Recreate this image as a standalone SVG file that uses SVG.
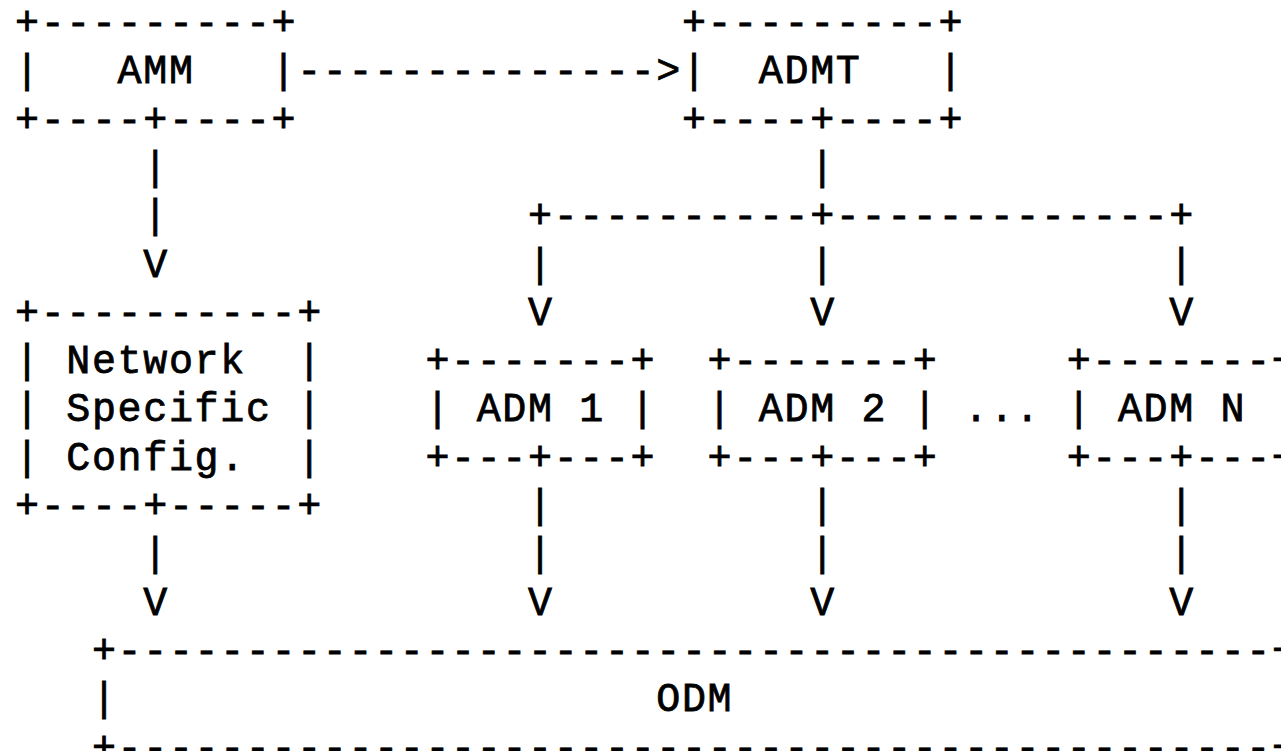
<svg xmlns="http://www.w3.org/2000/svg" width="1281" height="751" viewBox="0 0 1281 751" xml:space="preserve">
<style>
  text { font-family: "Liberation Mono", "DejaVu Sans Mono", monospace; font-size: 40px; letter-spacing: 1.65px; fill: #000; stroke: #000; stroke-width: 0.8px; font-weight: normal; white-space: pre; }
</style>
<rect x="0" y="0" width="1281" height="751" fill="#ffffff"/>
<g id="AMM">
  <text x="15" y="35">+---------+</text>
  <text x="15" y="83.3">|   AMM   |</text>
  <text x="15" y="131.6">+----+----+</text>
</g>
<g id="ADMT">
  <text x="681.9" y="35">+---------+</text>
  <text x="681.9" y="83.3">|  ADMT   |</text>
  <text x="681.9" y="131.6">+----+----+</text>
</g>
<g id="NetworkSpecificConfig">
  <text x="15" y="324.8">+----------+</text>
  <text x="15" y="373.1">| Network  |</text>
  <text x="15" y="421.4">| Specific |</text>
  <text x="15" y="469.7">| Config.  |</text>
  <text x="15" y="518">+----+-----+</text>
</g>
<g id="ADM1">
  <text x="425.4" y="373.1">+-------+</text>
  <text x="425.4" y="421.4">| ADM 1 |</text>
  <text x="425.4" y="469.7">+---+---+</text>
</g>
<g id="ADM2">
  <text x="707.55" y="373.1">+-------+</text>
  <text x="707.55" y="421.4">| ADM 2 |</text>
  <text x="707.55" y="469.7">+---+---+</text>
</g>
<g id="ADMN">
  <text x="1066.65" y="373.1">+-------+</text>
  <text x="1066.65" y="421.4">| ADM N |</text>
  <text x="1066.65" y="469.7">+---+---+</text>
</g>
<g id="ellipsis">
  <text x="964.05" y="421.4">...</text>
</g>
<g id="ODM">
  <text x="91.95" y="662.9">+---------------------------------------------+</text>
  <text x="91.95" y="711.2">|</text>
  <text x="656.25" y="711.2">ODM</text>
  <text x="1271.85" y="711.2">|</text>
  <text x="91.95" y="759.5">+---------------------------------------------+</text>
</g>
<g id="connectors">
  <text x="297.15" y="83.3">--------------&gt;</text>
  <text x="143.25" y="179.9">|</text>
  <text x="810.15" y="179.9">|</text>
  <text x="143.25" y="228.2">|</text>
  <text x="528" y="228.2">+----------+-------------+</text>
  <text x="143.25" y="276.5">V</text>
  <text x="528" y="276.5">|</text>
  <text x="810.15" y="276.5">|</text>
  <text x="1169.25" y="276.5">|</text>
  <text x="528" y="324.8">V</text>
  <text x="810.15" y="324.8">V</text>
  <text x="1169.25" y="324.8">V</text>
  <text x="528" y="518">|</text>
  <text x="810.15" y="518">|</text>
  <text x="1169.25" y="518">|</text>
  <text x="143.25" y="566.3">|</text>
  <text x="528" y="566.3">|</text>
  <text x="810.15" y="566.3">|</text>
  <text x="1169.25" y="566.3">|</text>
  <text x="143.25" y="614.6">V</text>
  <text x="528" y="614.6">V</text>
  <text x="810.15" y="614.6">V</text>
  <text x="1169.25" y="614.6">V</text>
</g>
</svg>
